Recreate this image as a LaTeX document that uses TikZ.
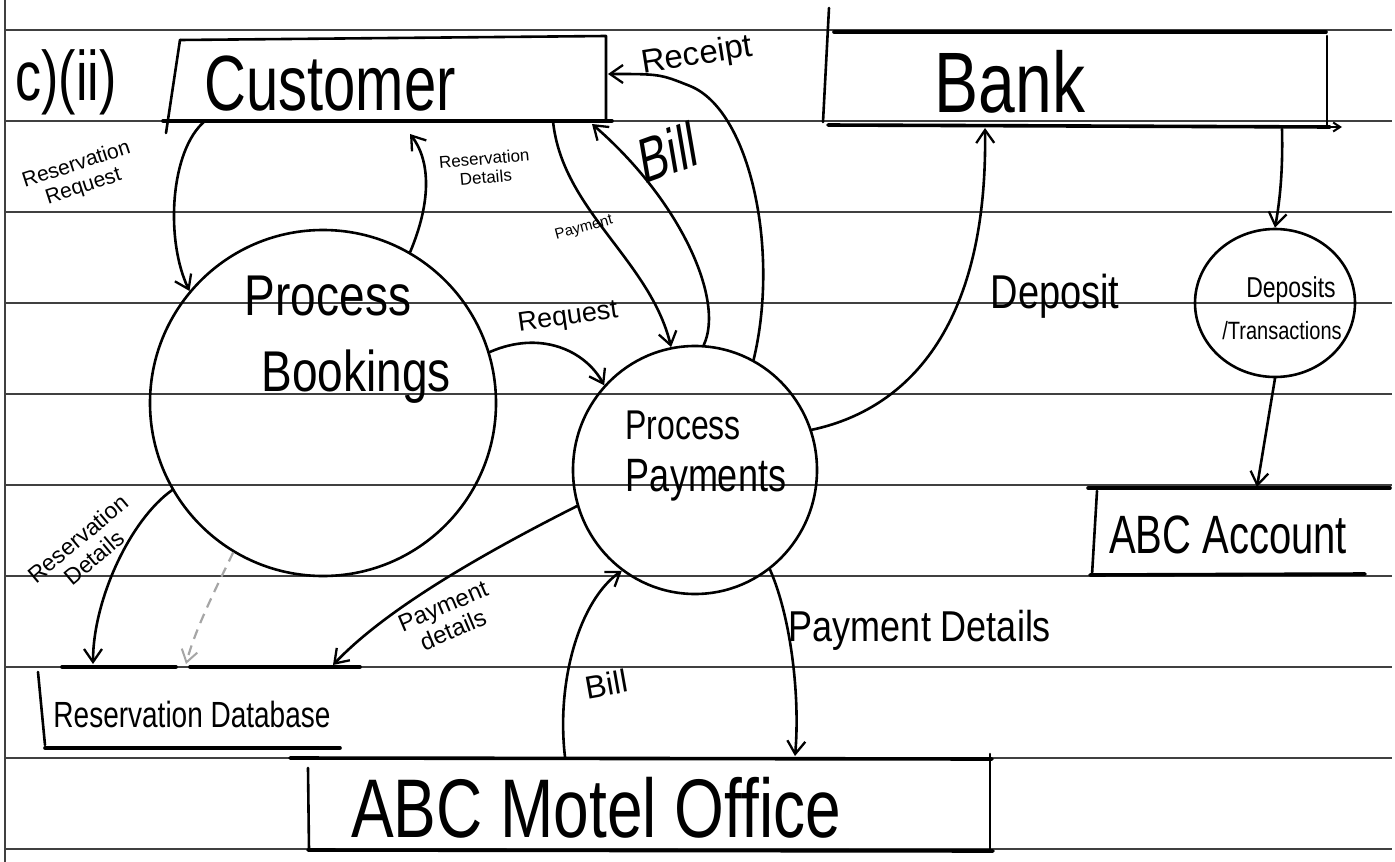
\documentclass[tikz,border=0pt]{standalone}
\usepackage{fontspec}
\setmainfont{Liberation Sans}
\usetikzlibrary{arrows.meta,shapes.geometric}
\begin{document}
\begin{tikzpicture}[x=1pt,y=-1pt,
  ink/.style={line width=2.6pt, line cap=round, line join=round},
  thick ink/.style={line width=3.6pt, line cap=round},
  flow/.style={ink, -{Straight Barb[length=13pt,width=18pt,line width=2.3pt]}},
  faint/.style={line width=2.2pt, black!35, dashed, dash pattern=on 10pt off 7pt,
     -{Straight Barb[length=12pt,width=16pt,line width=2pt]}},
  rule/.style={line width=1.3pt, black!75},
  lbl/.style={inner sep=0pt, align=center},
  proc/.style={ink, draw, inner sep=0pt},
]
\useasboundingbox (0,0) rectangle (1395,862);
\fill[white] (0,0) rectangle (1395,862);
% ruled paper
\foreach \yy in {30,121,212,303,394,485,576,667,758,849}
  \draw[rule] (5,\yy) -- (1392,\yy);
\draw[rule] (5,0) -- (5,862);

% ---------- title ----------
\node[lbl, font=\fontsize{52}{56}\selectfont, yscale=1.35] (title) at (66,82) {c)(ii)};

% ---------- Customer ----------
\coordinate (cTL) at (180,40);
\coordinate (cTR) at (606,36);
\coordinate (cBR) at (606,121);
\coordinate (cBL) at (163,121);
\draw[ink] (cTL) -- (cTR) -- (cBR);
\draw[ink] (cTL) -- (166,133);
\draw[thick ink] (cBL) -- (612,121);
\node[lbl, font=\fontsize{58}{62}\selectfont, yscale=1.35] (cust) at (330,84) {Customer};
\coordinate (cRR) at (205,121);
\coordinate (cRD) at (410,134);
\coordinate (cPay) at (553,121);
\coordinate (cBill) at (592,124);
\coordinate (cRec) at (608,74);

% ---------- Bank ----------
\coordinate (bTL) at (834,32);
\coordinate (bTR) at (1326,32);
\draw[ink] (829,8) -- (823,122);
\draw[thick ink] (bTL) -- (bTR);
\draw[ink] (1327,36) -- (1327,127);
\draw[thick ink] (828,125) -- (1330,127);
\draw[ink, -{Straight Barb[length=7pt,width=9pt,line width=2pt]}] (1318,127) -- (1342,127);
\node[lbl, font=\fontsize{66}{70}\selectfont, yscale=1.3] (bank) at (1010,82) {Bank};
\coordinate (bDep) at (985,128);
\coordinate (bOut) at (1282,129);

% ---------- Process Bookings ----------
\node[proc, circle, minimum size=346pt] (pb) at (323,403) {};
\node[lbl, font=\fontsize{46}{50}\selectfont, yscale=1.25] (pb1) at (328,296) {Process};
\node[lbl, font=\fontsize{46}{50}\selectfont, yscale=1.25] (pb2) at (356,377) {Bookings};

% ---------- Process Payments ----------
\node[proc, ellipse, minimum width=244pt, minimum height=248pt] (pp) at (695,470) {};
\node[lbl, font=\fontsize{32}{36}\selectfont, yscale=1.3] (pp1) at (683,425) {Process};
\node[lbl, font=\fontsize{36}{40}\selectfont, yscale=1.3] (pp2) at (706,480) {Payments};

% ---------- Deposits / Transactions ----------
\node[proc, ellipse, minimum width=160pt, minimum height=148pt] (dt) at (1275,303) {};
\node[lbl, font=\fontsize{23}{26}\selectfont, yscale=1.25] (dt1) at (1291,290) {Deposits};
\node[lbl, font=\fontsize{20}{24}\selectfont, yscale=1.25] (dt2) at (1282,331) {/Transactions};

% ---------- ABC Account ----------
\draw[thick ink] (1088,488) -- (1390,488);
\draw[ink] (1097,491) -- (1092,575);
\draw[thick ink] (1090,575) -- (1365,574);
\node[lbl, font=\fontsize{40}{44}\selectfont, yscale=1.35] (acc) at (1228,535) {ABC Account};
\coordinate (aIn) at (1257,487);

% ---------- Reservation Database ----------
\draw[thick ink] (62,667) -- (176,667);
\draw[thick ink] (190,667) -- (360,667);
\draw[ink] (38,672) -- (45,745);
\draw[thick ink] (45,748) -- (340,748);
\node[lbl, font=\fontsize{28}{32}\selectfont, yscale=1.3] (rdb) at (192,714) {Reservation Database};
\coordinate (rdRD) at (93,664);
\coordinate (rdDash) at (186,664);
\coordinate (rdPD) at (333,665);

% ---------- ABC Motel Office ----------
\draw[thick ink] (290,758) -- (992,759);
\draw[ink] (308,768) -- (309,850);
\draw[ink] (990,754) -- (990,850);
\draw[thick ink] (308,850) -- (993,851);
\node[lbl, font=\fontsize{64}{68}\selectfont, yscale=1.3] (office) at (596,808) {ABC Motel Office};
\coordinate (oBill) at (565,757);
\coordinate (oPD) at (795,756);

% ---------- flows ----------
\draw[flow] (cRR) .. controls (170,150) and (165,240) .. (pb.140);
\node[lbl, font=\fontsize{21}{23}\selectfont, rotate=18] (lRR) at (80,176) {Reservation\\Request};

\draw[flow] (pb.60) .. controls (432,200) and (430,160) .. (cRD);
\node[lbl, font=\fontsize{17}{19}\selectfont, rotate=5] (lRD1) at (485,168) {Reservation\\Details};

\draw[flow] (cPay) .. controls (562,210) and (650,260) .. (pp.101);
\node[lbl, font=\fontsize{15}{17}\selectfont, rotate=15] (lPay) at (584,228) {Payment};

\draw[flow] (pp.86) .. controls (725,300) and (680,200) .. (cBill);
\node[lbl, font=\fontsize{44}{48}\selectfont, yscale=1.45, rotate=14] (lBill1) at (668,152) {Bill};

\draw[flow] (pp.62) .. controls (780,250) and (750,110) .. (690,86) .. controls (660,74) .. (cRec);
\node[lbl, font=\fontsize{33}{36}\selectfont, rotate=9] (lRec) at (697,56) {Receipt};

\draw[flow] (pb.17) .. controls (540,330) and (585,350) .. (pp.137);
\node[lbl, font=\fontsize{27}{30}\selectfont, rotate=8] (lReq) at (568,318) {Request};

\draw[flow] (pp.19) .. controls (905,410) and (988,330) .. (bDep);
\node[lbl, font=\fontsize{38}{42}\selectfont, yscale=1.25] (lDep) at (1055,296) {Deposit};

\draw[flow] (bOut) .. controls (1283,170) and (1280,200) .. (dt.north);
\draw[flow] (dt.south) -- (aIn);

\draw[flow] (pb.210) .. controls (130,520) and (93,600) .. (rdRD);
\node[lbl, font=\fontsize{23}{25}\selectfont, rotate=40] (lRD2) at (86,548) {Reservation\\Details};

\draw[faint] (pb.239) .. controls (215,590) and (195,630) .. (rdDash);

\draw[flow] (pp.197) .. controls (480,555) and (385,610) .. (rdPD);
\node[lbl, font=\fontsize{24}{26}\selectfont, rotate=23] (lPD1) at (448,618) {Payment\\details};

\draw[flow] (oBill) .. controls (556,680) and (580,600) .. (pp.234);
\node[lbl, font=\fontsize{32}{35}\selectfont, rotate=10] (lBill2) at (606,684) {Bill};

\draw[flow] (pp.307) .. controls (792,620) and (800,700) .. (oPD);
\node[lbl, font=\fontsize{36}{40}\selectfont, yscale=1.2] (lPD2) at (920,630) {Payment Details};
\end{tikzpicture}
\end{document}
